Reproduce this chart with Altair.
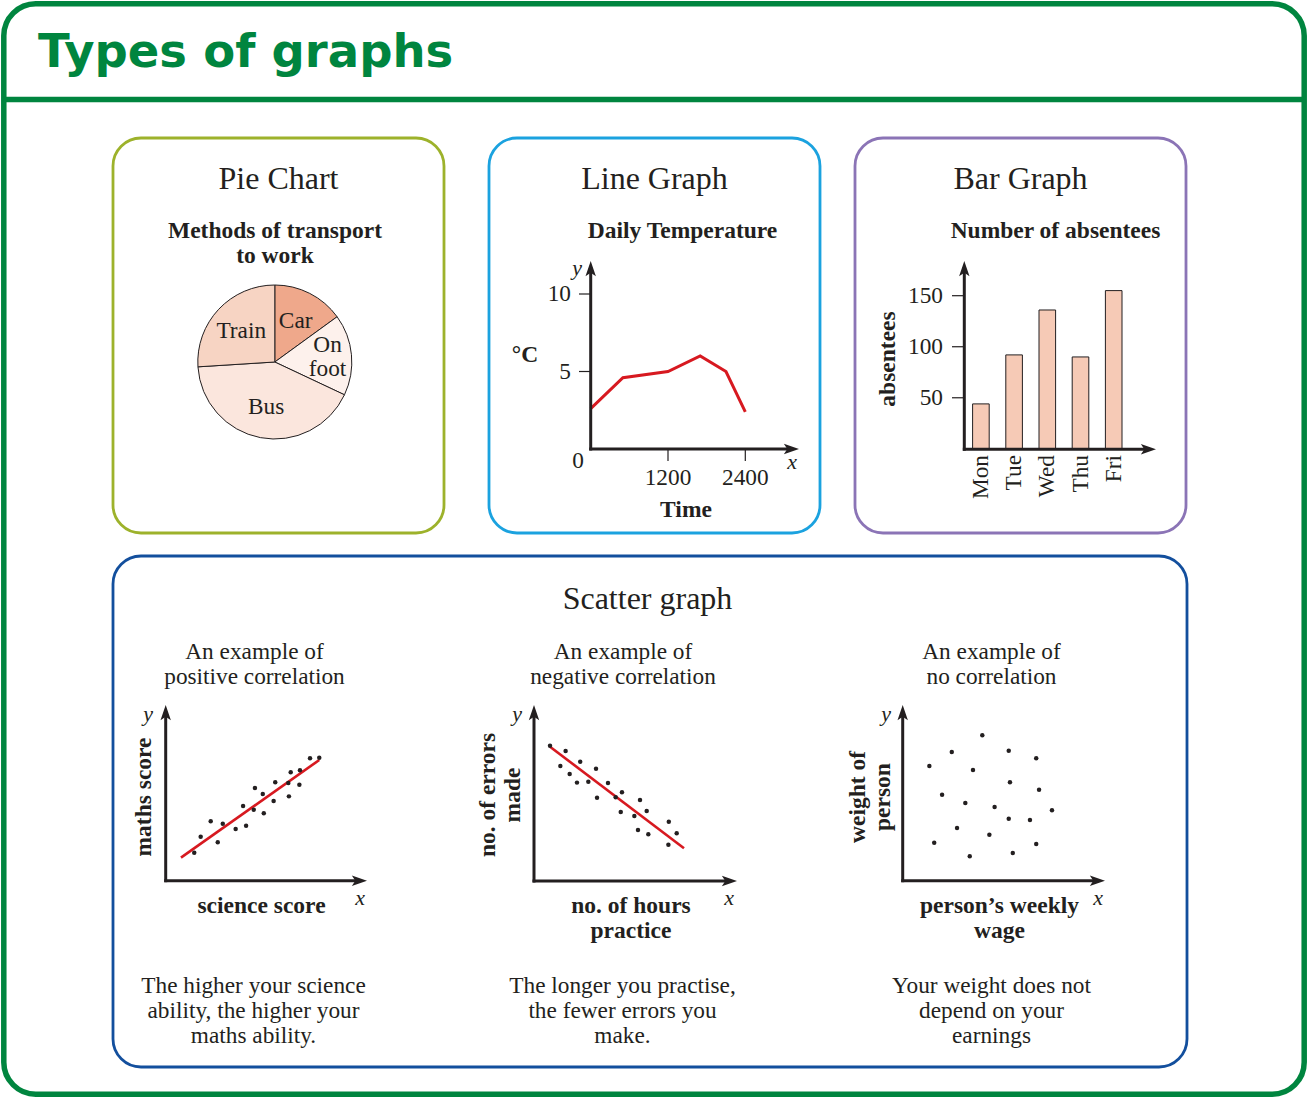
import altair as alt
import pandas as pd

W, H = 1308, 1098
SERIF = "Liberation Serif"
INK = "#231F20"
GREEN = "#00853F"

# ---------------- data ----------------
pie_methods = ["Car", "On foot", "Bus", "Train"]
pie_share = [15, 17, 42, 26]
pie_colors = ["#EFA88B", "#FDF1EC", "#FBE6DD", "#F7D4C3"]

temp_time = [0, 500, 1200, 1700, 2100, 2400]
temp_degc = [2.6, 4.6, 5.0, 6.0, 5.0, 2.4]
temp_yticks = [5, 10]
temp_xticks = [1200, 2400]

bar_days = ["Mon", "Tue", "Wed", "Thu", "Fri"]
bar_absent = [44, 92, 136, 90, 155]
bar_yticks = [50, 100, 150]

pos_x = [14.2, 17.4, 22.4, 25.9, 28.4, 34.8, 38.5, 40.0, 43.8, 44.4, 48.3,
         48.8, 53.7, 54.5, 61.0, 61.3, 62.2, 66.5, 66.8, 71.8, 76.4]
pos_y = [15.9, 25.0, 33.8, 21.9, 32.4, 29.4, 42.5, 31.3, 40.4, 52.8, 49.3,
         38.4, 45.4, 56.0, 55.6, 48.0, 61.7, 54.6, 62.8, 69.7, 70.0]
pos_fit_x = [7.6, 76.4]
pos_fit_y = [13.1, 68.7]

neg_x = [7.9, 15.6, 13.0, 22.8, 17.6, 30.6, 21.2, 26.8, 36.5, 31.1, 40.3,
         43.4, 42.8, 52.3, 49.5, 55.6, 51.3, 56.4, 66.5, 70.4, 66.3]
neg_y = [76.9, 73.9, 65.3, 67.8, 60.8, 63.8, 55.9, 56.4, 55.7, 47.3, 47.6,
         50.4, 39.2, 46.0, 36.9, 39.8, 29.0, 26.5, 33.7, 27.1, 20.6]
neg_fit_x = [7.9, 74.0]
neg_fit_y = [76.3, 18.6]

none_x = [39.4, 24.3, 52.5, 66.1, 13.2, 34.8, 53.1, 67.5, 19.5, 31.0,
          45.5, 73.9, 52.5, 63.0, 26.9, 42.9, 15.6, 66.1, 54.5, 33.2]
none_y = [82.8, 73.2, 74.0, 69.7, 65.3, 63.0, 56.0, 51.8, 48.9, 44.2,
          41.9, 40.1, 35.3, 34.5, 30.0, 26.2, 21.6, 20.9, 15.8, 13.9]


# ---------------- layout (pixels) ----------------
def S(domain, rng, zero=False):
    return alt.Scale(domain=domain, range=rng, nice=False, zero=zero)


PX = S([0, W], [0, W])
PY = S([0, H], [0, H])

LX = S([0, 2400], [590.7, 745.3])
LY = S([0, 10], [449, 294])
BX = alt.Scale(domain=bar_days, range=[964.3, 1130.3], paddingInner=0.5, paddingOuter=0.25)
BY = S([0, 150], [448.8, 295.7], zero=True)
PSX = S([0, 100], [165.7, 366.7])
PSY = S([0, 100], [880.7, 705])
NSX = S([0, 100], [534, 736.7])
NSY = S([0, 100], [881, 705])
ZSX = S([0, 100], [902.7, 1104.7])
ZSY = S([0, 100], [880.7, 705])

PIE_C = (274.8, 362)
PIE_R = 77

frame_box = [(3.8, 1304.2, 3.8, 1094.2)]
panel_boxes = [
    (113, 444, 138, 533, "#9DB22B"),
    (489, 820, 138, 533, "#1BA2DF"),
    (855, 1186, 138, 533, "#8B74B6"),
    (113, 1187, 556, 1067, "#134F9D"),
]
divider = [(3.8, 1304.2, 99.5)]

# axes: origin x, origin y, x-arrow tip, y-arrow tip
axes_px = [
    (590.7, 449, 799, 261),
    (964.3, 449.3, 1156, 261),
    (165.7, 880.7, 367, 705),
    (534, 881, 737, 705),
    (902.7, 880.7, 1105, 705),
]

ARROW = "M0,-1L0.6,0.75L0,0.35L-0.6,0.75Z"
ARROW_SIZE = 300
U = (ARROW_SIZE ** 0.5) / 2

BODY = 23.3
BOLD = 23.5

layers = []

# outer frame
fdf = pd.DataFrame(frame_box, columns=["x", "x2", "y", "y2"])
layers.append(
    alt.Chart(fdf).mark_rect(fill="white", fillOpacity=0, stroke=GREEN, strokeWidth=5.5, cornerRadius=32)
    .encode(x=alt.X("x:Q", scale=PX, axis=None), x2="x2:Q",
            y=alt.Y("y:Q", scale=PY, axis=None), y2="y2:Q")
)
ddf = pd.DataFrame(divider, columns=["x", "x2", "y"])
layers.append(
    alt.Chart(ddf).mark_rule(color=GREEN, strokeWidth=5.5)
    .encode(x=alt.X("x:Q", scale=PX, axis=None), x2="x2:Q", y=alt.Y("y:Q", scale=PY, axis=None))
)
# panel boxes
bdf = pd.DataFrame(panel_boxes, columns=["x", "x2", "y", "y2", "c"])
layers.append(
    alt.Chart(bdf).mark_rect(fill="white", fillOpacity=0, strokeWidth=2.8, cornerRadius=28)
    .encode(x=alt.X("x:Q", scale=PX, axis=None), x2="x2:Q",
            y=alt.Y("y:Q", scale=PY, axis=None), y2="y2:Q",
            stroke=alt.Stroke("c:N", scale=None))
)

# ---- pie ----
pie_df = pd.DataFrame({"method": pie_methods, "share": pie_share, "k": list(range(len(pie_methods)))})
layers.append(
    alt.Chart(pie_df).mark_arc(stroke=INK, strokeWidth=1, radius=PIE_R)
    .encode(theta=alt.Theta("share:Q", stack=True),
            order=alt.Order("k:Q"),
            color=alt.Color("method:N", scale=alt.Scale(domain=pie_methods, range=pie_colors), legend=None),
            x=alt.value(PIE_C[0]), y=alt.value(PIE_C[1]))
)

pie_lab_base = (
    alt.Chart(pie_df)
    .transform_window(cum="sum(share)", sort=[alt.SortField("k")], frame=[None, 0])
    .transform_joinaggregate(total="sum(share)")
    .transform_calculate(ang="2 * PI * (datum.cum - datum.share / 2) / datum.total",
                         nl="length(split(datum.method, ' '))")
)
layers.append(
    pie_lab_base.transform_filter("datum.nl == 1")
    .mark_text(radius=46, font=SERIF, fontSize=BODY, color=INK, baseline="middle")
    .encode(theta=alt.Theta("ang:Q", scale=None, stack=None), text="method:N",
            x=alt.value(PIE_C[0]), y=alt.value(PIE_C[1]))
)
layers.append(
    pie_lab_base.transform_filter("datum.nl > 1")
    .mark_text(radius=53, font=SERIF, fontSize=BODY, color=INK, baseline="middle",
               lineBreak=" ", lineHeight=24, dy=-12)
    .encode(theta=alt.Theta("ang:Q", scale=None, stack=None), text="method:N",
            x=alt.value(PIE_C[0]), y=alt.value(PIE_C[1]))
)

# ---- line graph ----
ldf = pd.DataFrame({"time": temp_time, "degc": temp_degc})
layers.append(
    alt.Chart(ldf).mark_line(color="#D71920", strokeWidth=3)
    .encode(x=alt.X("time:Q", scale=LX, axis=None), y=alt.Y("degc:Q", scale=LY, axis=None))
)
lyt = pd.DataFrame({"v": temp_yticks})
layers.append(
    alt.Chart(lyt).mark_rule(color=INK, strokeWidth=1.2)
    .encode(x=alt.value(579), x2=alt.value(590.7), y=alt.Y("v:Q", scale=LY, axis=None))
)
layers.append(
    alt.Chart(lyt).mark_text(font=SERIF, fontSize=BODY, align="right", baseline="middle", color=INK)
    .encode(x=alt.value(571), y=alt.Y("v:Q", scale=LY, axis=None), text="v:Q")
)
lxt = pd.DataFrame({"v": temp_xticks})
layers.append(
    alt.Chart(lxt).mark_rule(color=INK, strokeWidth=1.2)
    .encode(x=alt.X("v:Q", scale=LX, axis=None), y=alt.value(449), y2=alt.value(461))
)
layers.append(
    alt.Chart(lxt).mark_text(font=SERIF, fontSize=BODY, align="center", baseline="alphabetic", color=INK)
    .encode(x=alt.X("v:Q", scale=LX, axis=None), y=alt.value(485), text="v:Q")
)

# ---- bar graph ----
bar_df = pd.DataFrame({"day": bar_days, "absent": bar_absent})
layers.append(
    alt.Chart(bar_df).mark_bar(fill="#F6CAB6", stroke=INK, strokeWidth=1)
    .encode(x=alt.X("day:N", scale=BX, axis=None, sort=bar_days),
            y=alt.Y("absent:Q", scale=BY, axis=None))
)
layers.append(
    alt.Chart(bar_df).mark_text(font=SERIF, fontSize=BODY, angle=270, align="right", baseline="middle", color=INK)
    .encode(x=alt.X("day:N", scale=BX, axis=None, sort=bar_days), y=alt.value(455), text="day:N")
)
byt = pd.DataFrame({"v": bar_yticks})
layers.append(
    alt.Chart(byt).mark_rule(color=INK, strokeWidth=1.2)
    .encode(x=alt.value(952), x2=alt.value(964.3), y=alt.Y("v:Q", scale=BY, axis=None))
)
layers.append(
    alt.Chart(byt).mark_text(font=SERIF, fontSize=BODY, align="right", baseline="middle", color=INK)
    .encode(x=alt.value(943), y=alt.Y("v:Q", scale=BY, axis=None), text="v:Q")
)


# ---- scatter graphs ----
def scatter(xs, ys, fx, fy, sx, sy):
    fit = pd.DataFrame({"a": fx, "b": fy})
    pts = pd.DataFrame({"a": xs, "b": ys})
    return [
        alt.Chart(fit).mark_line(color="#D71920", strokeWidth=2.6)
        .encode(x=alt.X("a:Q", scale=sx, axis=None), y=alt.Y("b:Q", scale=sy, axis=None)),
        alt.Chart(pts).mark_circle(size=20, color=INK, opacity=1)
        .encode(x=alt.X("a:Q", scale=sx, axis=None), y=alt.Y("b:Q", scale=sy, axis=None)),
    ]


layers += scatter(pos_x, pos_y, pos_fit_x, pos_fit_y, PSX, PSY)
layers += scatter(neg_x, neg_y, neg_fit_x, neg_fit_y, NSX, NSY)
none_pts = pd.DataFrame({"a": none_x, "b": none_y})
layers.append(
    alt.Chart(none_pts).mark_circle(size=20, color=INK, opacity=1)
    .encode(x=alt.X("a:Q", scale=ZSX, axis=None), y=alt.Y("b:Q", scale=ZSY, axis=None))
)

# ---- axes with arrowheads ----
rule_rows, arrow_rows = [], []
for ox, oy, xt, yt in axes_px:
    rule_rows.append((ox - 1.5, oy, xt - 6, oy))
    rule_rows.append((ox, oy + 1.5, ox, yt + 6))
    arrow_rows.append((xt - U, oy, 90))
    arrow_rows.append((ox, yt + U, 0))
rdf = pd.DataFrame(rule_rows, columns=["x", "y", "x2", "y2"])
layers.append(
    alt.Chart(rdf).mark_rule(color=INK, strokeWidth=3)
    .encode(x=alt.X("x:Q", scale=PX, axis=None), x2="x2:Q",
            y=alt.Y("y:Q", scale=PY, axis=None), y2="y2:Q")
)
adf = pd.DataFrame(arrow_rows, columns=["x", "y", "a"])
layers.append(
    alt.Chart(adf).mark_point(shape=ARROW, filled=True, size=ARROW_SIZE, color=INK, opacity=1, strokeWidth=0)
    .encode(x=alt.X("x:Q", scale=PX, axis=None), y=alt.Y("y:Q", scale=PY, axis=None),
            angle=alt.Angle("a:Q", scale=None))
)


# ---- text ----
def text_layer(rows, size, weight="normal", style="normal", angle=0, align="center",
               baseline="alphabetic", line_height=25, font=SERIF, color=INK):
    df = pd.DataFrame(rows, columns=["t", "x", "y"])
    return (
        alt.Chart(df).mark_text(font=font, fontSize=size, fontWeight=weight, fontStyle=style,
                                angle=angle, align=align, baseline=baseline, lineBreak="\n",
                                lineHeight=line_height, color=color)
        .encode(x=alt.X("x:Q", scale=PX, axis=None), y=alt.Y("y:Q", scale=PY, axis=None), text="t:N")
    )


layers.append(text_layer([("Types of graphs", 38, 67)], 46.5, weight="bold", align="left",
                         font="DejaVu Sans", color=GREEN))
layers.append(text_layer([
    ("Pie Chart", 278.5, 189),
    ("Line Graph", 654.5, 189),
    ("Bar Graph", 1020.5, 189),
    ("Scatter graph", 647.5, 609),
], 32))
layers.append(text_layer([
    ("Methods of transport\nto work", 275, 238),
    ("Daily Temperature", 682.5, 238),
    ("Number of absentees", 1055.5, 238),
    ("°C", 525, 362),
    ("Time", 686, 517),
    ("science score", 261.5, 913),
    ("no. of hours\npractice", 631, 913),
    ("person\u2019s weekly\nwage", 999.5, 913),
], BOLD, weight="bold", line_height=24.5))
layers.append(text_layer([
    ("absentees", 888, 359),
    ("maths score", 143.5, 797),
    ("no. of errors\nmade", 488, 795),
    ("weight of\nperson", 857.5, 797),
], BOLD, weight="bold", angle=270, baseline="middle", line_height=25))
layers.append(text_layer([
    ("An example of\npositive correlation", 254.5, 659),
    ("An example of\nnegative correlation", 623, 659),
    ("An example of\nno correlation", 991.5, 659),
    ("The higher your science\nability, the higher your\nmaths ability.", 253.5, 993),
    ("The longer you practise,\nthe fewer errors you\nmake.", 622.5, 993),
    ("Your weight does not\ndepend on your\nearnings", 991.5, 993),
], BODY, line_height=25))
layers.append(text_layer([("0", 578, 461)], BODY, baseline="middle"))
layers.append(text_layer([
    ("y", 577, 268), ("x", 792, 462),
    ("y", 148, 714), ("x", 360, 898),
    ("y", 517, 714), ("x", 729, 898),
    ("y", 886, 714), ("x", 1098, 898),
], 22, style="italic", baseline="middle"))

chart = (
    alt.layer(*layers)
    .resolve_scale(x="independent", y="independent")
    .properties(width=W, height=H, padding=0, autosize=alt.AutoSizeParams(type="none"),
                background="white")
    .configure_view(strokeWidth=0)
)

chart.save("out.html", embed_options={"renderer": "svg", "actions": False})
